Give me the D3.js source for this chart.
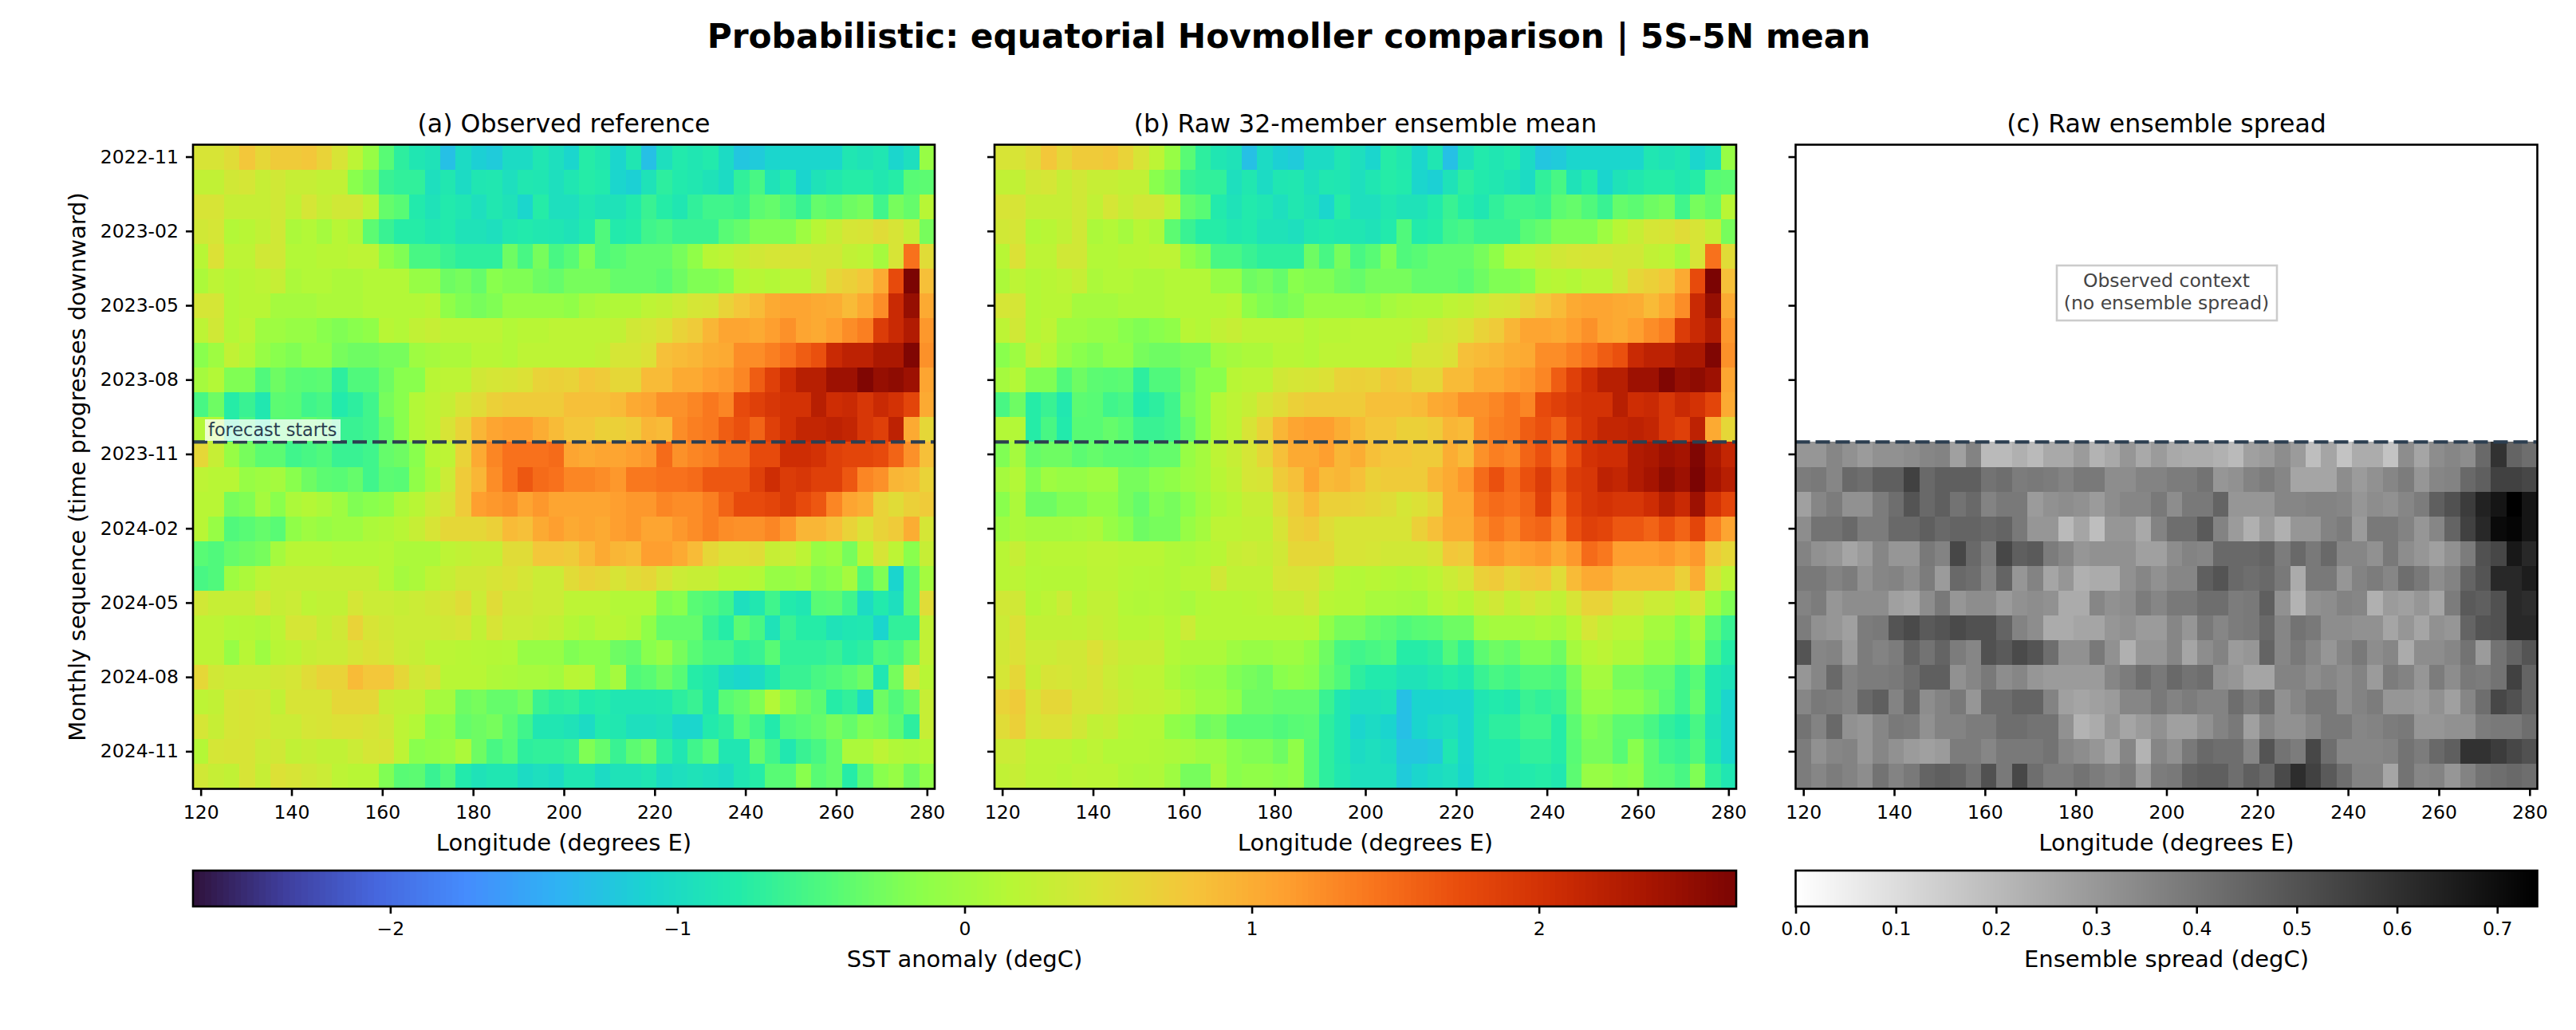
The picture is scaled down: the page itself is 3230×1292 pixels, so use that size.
<!DOCTYPE html>
<html>
<head>
<meta charset="utf-8">
<script src="https://cdn.jsdelivr.net/npm/d3@7"></script>
<style>
  body { margin: 0; background: #fff; }
  text { font-family: "DejaVu Sans", sans-serif; fill: #000; }
</style>
</head>
<body>
<div id="chart"></div>
<script>
// months down the y axis, one row each
const months = ["2022-11","2022-12","2023-01","2023-02","2023-03","2023-04","2023-05","2023-06","2023-07","2023-08","2023-09","2023-10",
  "2023-11","2023-12","2024-01","2024-02","2024-03","2024-04","2024-05","2024-06","2024-07","2024-08","2024-09","2024-10","2024-11","2024-12"];
const monthTicks = ["2022-11","2023-02","2023-05","2023-08","2023-11","2024-02","2024-05","2024-08","2024-11"];
const lonTicks = [120,140,160,180,200,220,240,260,280];
const anomalyTicks = [-2,-1,0,1,2];
const spreadTicks = [0,0.1,0.2,0.3,0.4,0.5,0.6,0.7];
const forecastStart = "2023-11";

// (a) observed anomaly, degC
const observed = [
[.44,.44,.54,.77,.59,.72,.72,.77,.64,.44,.21,-.07,-.44,-.72,-.86,-.91,-1.29,-1.01,-1.14,-1.19,-1.01,-1.01,-.86,-.96,-1.08,-.77,-.84,-1.08,-.86,-1.29,-.96,-.81,-.86,-.81,-1.01,-1.24,-1.19,-1.08,-1.08,-1.08,-1.08,-1.08,-.86,-.91,-.86,-1.08,-.96,-.07],
[.25,.25,.38,.42,.29,.38,.29,.29,.25,.25,-.17,-.27,-.64,-.69,-.69,-.96,-.84,-1.01,-.86,-.84,-.96,-.84,-.86,-.96,-.86,-.77,-.81,-1.08,-1.14,-.91,-.72,-.81,-.84,-.91,-1.01,-.69,-.54,-.91,-.77,-1.09,-.91,-.84,-.77,-.77,-.84,-.77,-.44,-.42],
[.44,.44,.29,.29,.29,.38,.25,.42,.29,.38,.38,.21,-.37,-.44,-.81,-.91,-.81,-.86,-.96,-.84,-.91,-1.08,-.77,-.96,-.96,-.84,-.91,-.91,-.81,-.64,-.77,-.86,-.69,-.59,-.59,-.64,-.42,-.37,-.49,-.64,-.37,-.42,-.32,-.27,-.59,-.27,-.37,.17],
[.38,.42,.13,.17,.25,.38,.08,.13,.03,.17,.08,-.42,-.64,-.77,-.77,-.84,-.81,-.91,-.91,-.96,-.84,-.81,-.84,-.86,-.91,-.81,-.49,-.81,-.77,-.59,-.54,-.64,-.64,-.64,-.44,-.37,-.22,-.22,-.22,-.02,.17,.29,.42,.44,.54,.44,.29,-.27],
[.17,.49,.21,.21,.38,.38,.13,.13,.17,.17,.21,.21,-.12,-.22,-.54,-.54,-.64,-.72,-.72,-.72,-.32,-.54,-.27,-.54,-.44,-.22,-.49,-.44,-.37,-.37,-.37,-.27,-.12,.17,.21,.29,.38,.42,.44,.44,.38,.38,.25,.21,.03,.44,1.45,.54],
[.08,.21,.13,.17,.21,.29,.08,.13,.13,.08,.08,.13,.13,.13,-.07,-.07,-.32,-.27,-.37,-.17,-.22,-.22,-.32,-.37,-.27,-.27,-.27,-.37,-.37,-.37,-.42,-.32,-.22,-.22,-.17,.13,.17,.13,.21,.21,.38,.59,.67,.77,1.03,1.75,2.68,.83],
[.42,.42,.13,.17,.17,.03,.03,.03,.08,.08,.08,.13,.13,.13,.13,.17,-.12,-.22,-.27,-.22,-.07,-.07,-.07,-.07,-.12,.03,.08,.11,.11,.21,.25,.33,.42,.44,.64,.77,.88,1.03,1.07,1.07,1.03,1,.88,1.03,1.25,2.1,2.5,1.03],
[.21,.38,.13,.21,-.02,-.02,-.07,-.07,-.17,-.22,-.17,-.12,.17,.13,.25,.29,.21,.21,.21,.21,.13,.17,.17,.21,.21,.21,.21,.25,.38,.42,.49,.64,.72,.92,1.07,1.07,1.03,1.12,1.22,1.07,1.03,1.12,1.25,1.35,1.9,2.1,2.3,1.17],
[-.17,-.02,.25,.13,-.07,-.17,-.22,-.12,-.12,-.27,-.32,-.32,-.27,-.27,-.02,.03,.08,.08,.17,.17,.13,.21,.21,.21,.21,.21,.25,.42,.42,.49,.83,.88,.92,1,1.03,1.25,1.25,1.35,1.45,1.6,1.7,2.1,2.2,2.2,2.35,2.35,2.65,1.22],
[.03,.13,-.22,-.22,-.49,-.32,-.42,-.44,-.42,-.72,-.49,-.49,-.32,-.17,-.17,.17,.21,.21,.38,.42,.44,.49,.64,.67,.64,.77,.72,.59,.59,.88,.88,1.03,1.03,1.12,1.17,1.3,1.6,1.85,2.05,2.25,2.25,2.45,2.45,2.65,2.5,2.55,2.45,1.07],
[-.54,-.32,-.77,-.64,-.84,-.42,-.44,-.59,-.54,-.81,-.72,-.59,-.27,-.17,.13,.21,.29,.44,.54,.67,.72,.72,.72,.72,.83,.83,.83,.88,1.03,1.07,1.22,1.22,1.3,1.4,1.3,1.75,1.85,1.95,2,2,2.25,2.05,2.1,1.95,2.1,2,1.8,1.03],
[.13,.13,-.77,-.54,-.81,-.44,-.44,-.37,-.44,-.64,-.64,-.59,-.37,-.17,.13,.21,.44,.64,.92,1.07,1.12,1.12,1,.88,.77,.77,.67,.67,.72,.92,.88,1.25,1.35,1.4,1.6,1.7,1.55,1.85,2,2.15,2.15,2.2,2.15,1.95,1.85,2.2,1.03,.59],
[.59,.29,-.07,-.27,-.42,-.42,-.59,-.54,-.49,-.64,-.64,-.59,-.37,-.32,-.17,.17,.21,.64,1.03,1.3,1.45,1.45,1.45,1.5,1.07,1.03,1.07,1.07,1.12,1.17,1.5,1.22,1.3,1.35,1.5,1.5,1.75,1.75,2.05,2.05,2,1.85,1.8,1.8,1.75,1.55,1.22,.83],
[.21,.17,.17,-.07,-.02,.03,-.17,-.32,-.42,-.44,-.37,-.59,-.42,-.44,-.12,.08,.33,.72,.92,1.25,1.45,1.65,1.5,1.45,1.3,1.3,1.25,1.17,1.4,1.4,1.45,1.45,1.5,1.65,1.65,1.65,1.85,2.05,1.9,1.95,1.85,1.85,1.65,1.3,1.22,.92,.88,.64],
[.17,.17,-.27,-.22,.03,-.17,.08,.14,.08,-.02,-.22,-.17,-.12,.08,.17,.33,.44,.72,1.12,1.17,1.22,1.07,1.17,1.07,1.07,1.07,1.07,1.12,1.17,1.17,1.3,1.25,1.25,1.35,1.55,1.75,1.75,1.8,1.9,1.75,1.65,1.3,1.07,1,.64,.54,.67,.72],
[.17,-.07,-.49,-.44,-.37,-.44,-.12,-.02,-.07,-.02,-.02,.08,.11,.17,.29,.44,.59,.59,.59,.67,.88,.83,1.03,1.12,1.03,1.07,1.03,1.12,1.17,1.07,1.07,1.17,1.25,1.35,1.25,1.22,1.22,1.3,1.17,.92,.92,.83,.64,.49,.64,.72,1,.42],
[-.44,-.49,-.37,-.32,-.27,.03,.17,.17,.17,.13,.13,.13,.15,.08,.08,.08,.21,.25,.29,.29,.54,.54,.77,.77,.72,.88,1.03,.92,.88,1.12,1.12,1.03,.88,.59,.49,.49,.54,.29,.33,.21,-.07,-.02,-.27,.17,.44,.21,-.17,.29],
[-.54,-.49,-.02,.08,.21,.29,.29,.29,.29,.29,.29,.29,.15,.03,.08,.21,.29,.38,.38,.44,.49,.42,.33,.33,.54,.64,.59,.44,.54,.59,.44,.33,.29,.29,.17,.17,.13,-.07,-.07,-.02,-.22,-.17,.03,-.49,-.22,-1.09,-.42,.03],
[.38,.29,.29,.29,.42,.29,.33,.21,.25,.25,.42,.33,.33,.29,.33,.38,.44,.54,.33,.54,.38,.38,.33,.33,.21,.21,.21,.13,.13,.13,-.22,-.17,-.44,-.49,-.59,-.96,-.84,-.59,-.81,-.86,-.44,-.42,-.59,-1.01,-.81,-.96,-.42,.54],
[.21,.21,.13,.14,.1,.2,.42,.42,.29,.38,.64,.44,.38,.33,.33,.33,.38,.42,.25,.44,.33,.33,.29,.25,.14,.08,.17,.17,.11,-.12,-.37,-.37,-.37,-.64,-.77,-.42,-.54,-.91,-.64,-.77,-.77,-.91,-.86,-.84,-1.09,-.69,-.69,.25],
[.2,.2,-.07,.17,-.02,.17,.21,.29,.33,.33,.42,.49,.42,.33,.29,.21,.19,.17,.15,.14,.13,-.07,-.07,-.07,-.22,-.17,-.17,-.32,-.37,-.17,-.07,-.27,-.44,-.54,-.54,-.69,-.64,-.44,-.69,-.69,-.69,-.64,-.77,-.72,-.49,-.54,-.32,.25],
[.59,.38,.33,.33,.33,.38,.42,.54,.64,.64,.88,.77,.77,.59,.38,.44,.17,.17,.17,.1,.08,.05,.05,.01,.17,.15,-.17,.03,-.49,-.44,-.32,-.44,-.77,-.84,-1.01,-1.07,-1.01,-.84,-.64,-.64,-.54,-.49,-.42,-.32,-.86,-.27,.42,.17],
[.21,.25,.42,.44,.42,.25,.44,.44,.44,.59,.59,.59,.29,.25,.25,.03,.03,-.32,-.27,-.37,-.37,-.27,-.64,-.72,-.69,-.81,-.77,-.86,-.86,-.86,-.84,-.72,-.64,-.86,-.44,-.37,-.22,.13,-.17,-.32,-.42,-.77,-.69,-1.01,-.32,-.49,-.32,.29],
[.42,.29,.42,.44,.42,.33,.33,.42,.44,.49,.49,.44,.38,.21,.13,-.17,-.12,-.37,-.32,-.27,-.42,-.59,-.86,-.86,-.91,-1.01,-.81,-.84,-.96,-.96,-.91,-1.08,-1.08,-.81,-.72,-.44,-.59,-.81,-.49,-.44,-.37,-.27,-.37,-.22,-.27,-.42,-.72,.29],
[.14,.42,.44,.44,.33,.38,.25,.29,.25,.25,.33,.42,.44,.21,-.17,-.12,-.07,.08,-.32,-.54,-.44,-.72,-.69,-.69,-.64,-.22,-.37,-.64,-.42,-.32,-.69,-.86,-.59,-.44,-.86,-.86,-.37,-.59,-.84,-.64,-.54,-.37,.08,.08,.21,.11,.08,.13],
[.38,.29,.25,.44,.29,.49,.44,.38,.33,.21,.17,.17,-.22,-.44,-.42,-.64,-.49,-.81,-.91,-.86,-.86,-1.01,-.96,-1.01,-.86,-.86,-1.01,-.91,-.91,-.86,-1.01,-.96,-.91,-.96,-1.01,-.86,-.77,-.44,-.44,-.17,-.44,-.37,-.77,-.42,-.17,-.07,-.32,-.12]
];

// (b) ensemble mean for the forecast months, the months before are observed
const ensembleMean = [
[-.22,.03,-.37,-.32,-.32,-.42,-.37,-.42,-.42,-.44,-.37,-.37,-.07,.03,.21,.29,.42,.59,.83,1.03,1.03,1.12,.92,1,.83,.77,.77,.72,.72,1,.88,1.22,1.35,1.3,1.55,1.7,1.45,1.75,2,2.05,2.05,2.3,2.35,2.45,2.4,2.65,2.35,2.15],
[.03,.13,-.22,-.02,-.07,-.07,-.02,-.02,-.27,-.27,-.17,-.12,-.02,.03,.17,.25,.42,.44,.72,.83,1.07,.88,.92,.83,.67,.72,.72,.72,.92,1.03,1.17,1.5,1.7,1.5,1.7,1.9,1.6,1.9,1.95,2.2,2.15,2.3,2.4,2.55,2.45,2.68,2.4,2.25],
[-.17,.08,-.32,-.32,-.22,-.22,-.12,-.12,-.27,-.37,-.22,-.27,-.17,-.02,.11,.17,.29,.29,.54,.72,.88,.67,.67,.64,.59,.54,.42,.49,.59,1.03,1.03,1.4,1.5,1.45,1.55,1.85,1.45,1.8,1.95,2,1.95,1.95,2.05,2.25,2.1,2.45,2,1.8],
[-.02,.08,.03,.03,.03,.05,.08,-.07,-.17,-.32,-.27,-.27,-.07,.03,.21,.21,.25,.25,.44,.67,.72,.54,.44,.44,.44,.44,.44,.67,.83,1,1,1.25,1.4,1.3,1.5,1.55,1.3,1.7,1.85,1.8,1.65,1.65,1.55,1.7,1.55,1.8,1.35,1.07],
[.17,.29,.14,.17,.17,.17,.21,.21,.17,.17,.17,.11,.08,.13,.17,.29,.33,.29,.38,.59,.59,.59,.44,.44,.42,.38,.38,.38,.44,.77,.72,1.12,1.17,1.07,1.12,1.17,1.03,1.17,1.5,1.4,1.12,1.12,1.12,1.17,1.07,1.17,.72,.59],
[.17,.2,.13,.14,.14,.14,.2,.2,.15,.13,.14,.11,.17,.17,.38,.24,.24,.24,.42,.44,.44,.29,.17,.13,.17,.14,.11,.14,.21,.33,.42,.67,.72,.59,.72,.77,.54,.88,1.03,1.03,.88,.88,.88,.88,.67,1,.44,.21],
[.38,.38,.14,.21,.33,.17,.25,.25,.13,.11,.13,.1,.05,.13,.15,.15,.17,.2,.29,.29,.38,.17,.14,.13,.05,.05,.03,.01,.13,.21,.14,.29,.38,.25,.42,.33,.25,.44,.64,.64,.44,.44,.33,.33,.21,.42,.01,-.22],
[.33,.49,.25,.25,.25,.24,.29,.25,.17,.17,.2,.13,.33,.15,.15,.15,.15,.15,.15,.15,.17,-.12,-.27,-.27,-.37,-.42,-.49,-.44,-.42,-.32,-.32,-.02,.03,.03,.03,.08,.03,.17,.42,.29,.21,.21,.03,.03,-.17,.03,-.42,-.64],
[.38,.49,.33,.33,.38,.38,.49,.38,.29,.29,.29,.13,.08,.08,.08,-.02,-.07,-.07,-.02,-.02,-.12,-.32,-.54,-.59,-.54,-.49,-.77,-.77,-.72,-.49,-.69,-.42,-.32,-.37,-.22,-.22,-.32,.03,.15,.2,.1,.1,-.07,-.07,-.22,-.07,-.54,-.77],
[.42,.59,.29,.44,.42,.38,.44,.33,.25,.21,.21,.08,-.02,-.07,-.07,-.22,-.27,-.32,-.17,-.12,-.17,-.37,-.49,-.72,-.81,-.81,-.91,-.91,-.84,-.77,-.84,-.64,-.54,-.59,-.49,-.49,-.54,-.27,.03,.03,-.27,-.27,-.37,-.37,-.59,-.44,-.84,-.91],
[.64,.72,.44,.59,.59,.44,.44,.38,.29,.25,.24,.19,.08,-.02,-.02,-.12,-.32,-.32,-.37,-.37,-.37,-.64,-.86,-.96,-.96,-.91,-1.29,-1.09,-1.09,-1.08,-1.08,-.86,-.81,-.84,-.64,-.69,-.64,-.32,-.07,-.07,-.17,-.17,-.27,-.42,-.59,-.37,-.84,-1.08],
[.54,.67,.42,.49,.49,.38,.25,.29,.15,.13,.13,-.12,-.17,-.32,-.27,-.44,-.44,-.44,-.49,-.44,-.42,-.72,-.86,-1.08,-1.01,-1.09,-1.29,-1.09,-1.01,-.96,-1.08,-.84,-.72,-.72,-.59,-.59,-.77,-.42,-.22,-.27,-.42,-.42,-.54,-.69,-.77,-.54,-.91,-1.08],
[.33,.33,.21,.21,.21,.15,.21,.13,.13,.13,.11,.08,.05,-.02,-.02,-.17,-.22,-.22,-.32,-.12,-.44,-.72,-.86,-1.01,-.96,-1.01,-1.24,-1.24,-1.19,-.86,-1.08,-.84,-.81,-.81,-.69,-.69,-.77,-.44,-.27,-.27,-.44,-.17,-.42,-.59,-.64,-.49,-.86,-1.08],
[.25,.29,.2,.2,.17,.21,.19,.19,.11,.08,.1,-.02,-.27,-.27,.03,-.17,-.12,-.12,-.17,-.12,-.44,-.72,-.84,-.96,-.96,-.96,-1.19,-1.08,-1.01,-.96,-1.09,-.86,-.81,-.84,-.81,-.77,-.84,-.42,-.07,-.07,-.17,-.12,-.42,-.44,-.54,-.22,-.69,-.86]
];

// (c) ensemble spread, forecast months only
const ensembleSpread = [
[.305,.305,.35,.32,.29,.32,.32,.33,.35,.36,.275,.36,.2,.2,.23,.2,.25,.25,.29,.22,.25,.305,.25,.29,.25,.24,.24,.225,.2,.275,.29,.33,.29,.19,.26,.175,.24,.24,.175,.33,.26,.33,.35,.33,.435,.595,.45,.42],
[.38,.39,.35,.435,.42,.465,.465,.55,.435,.465,.465,.465,.405,.42,.38,.39,.38,.36,.39,.39,.33,.33,.36,.36,.38,.38,.405,.305,.32,.36,.38,.35,.26,.26,.26,.33,.29,.32,.35,.38,.305,.35,.36,.435,.465,.55,.55,.535],
[.275,.35,.38,.32,.32,.38,.42,.495,.435,.465,.405,.435,.36,.39,.39,.29,.32,.33,.32,.29,.33,.35,.35,.39,.33,.39,.39,.45,.305,.305,.305,.35,.35,.36,.36,.35,.305,.33,.32,.35,.38,.465,.505,.565,.64,.68,.74,.68],
[.33,.405,.405,.435,.38,.38,.435,.435,.465,.435,.45,.45,.435,.45,.39,.305,.305,.2,.26,.19,.305,.305,.25,.36,.42,.42,.48,.36,.29,.23,.29,.23,.305,.305,.36,.38,.29,.39,.39,.36,.305,.35,.45,.55,.625,.71,.725,.68],
[.36,.32,.305,.26,.29,.35,.305,.305,.39,.36,.535,.435,.38,.535,.465,.48,.38,.35,.305,.32,.32,.32,.275,.275,.33,.36,.35,.435,.435,.435,.45,.38,.435,.39,.435,.35,.35,.32,.39,.33,.305,.275,.32,.38,.505,.535,.67,.625],
[.39,.39,.36,.38,.32,.35,.36,.33,.38,.29,.435,.42,.36,.45,.305,.36,.26,.305,.23,.245,.245,.32,.35,.32,.35,.35,.465,.495,.435,.42,.435,.39,.245,.39,.39,.305,.36,.38,.35,.42,.39,.33,.36,.45,.495,.625,.625,.655],
[.36,.38,.305,.33,.33,.33,.275,.26,.33,.39,.305,.33,.33,.29,.32,.33,.32,.245,.245,.35,.32,.33,.38,.35,.39,.39,.42,.42,.38,.39,.465,.32,.22,.32,.33,.36,.35,.23,.29,.275,.305,.26,.38,.48,.465,.505,.625,.61],
[.38,.32,.305,.275,.38,.39,.495,.525,.48,.495,.525,.505,.505,.45,.36,.33,.245,.245,.26,.26,.305,.32,.29,.29,.35,.305,.39,.35,.38,.39,.435,.35,.405,.39,.33,.33,.32,.32,.26,.305,.26,.32,.305,.45,.495,.505,.625,.625],
[.495,.35,.36,.29,.38,.36,.38,.45,.405,.45,.38,.35,.505,.48,.525,.495,.42,.32,.32,.39,.32,.23,.305,.305,.35,.26,.33,.36,.29,.305,.45,.35,.39,.35,.305,.35,.39,.33,.35,.245,.33,.33,.35,.405,.29,.405,.45,.495],
[.305,.35,.435,.36,.38,.38,.39,.42,.465,.465,.32,.35,.39,.33,.35,.305,.29,.29,.29,.29,.35,.38,.42,.39,.435,.405,.42,.32,.305,.26,.26,.36,.36,.33,.35,.33,.36,.29,.38,.36,.305,.38,.33,.39,.38,.405,.55,.45],
[.35,.39,.38,.36,.435,.465,.36,.435,.33,.36,.39,.305,.42,.42,.45,.45,.36,.275,.26,.275,.29,.35,.35,.39,.36,.38,.36,.36,.42,.38,.42,.32,.35,.39,.39,.33,.36,.38,.305,.305,.29,.32,.275,.35,.42,.535,.505,.45],
[.405,.36,.435,.32,.305,.35,.39,.38,.32,.36,.36,.38,.38,.42,.42,.405,.405,.32,.22,.245,.305,.26,.29,.32,.275,.275,.32,.36,.39,.275,.35,.32,.32,.35,.39,.39,.35,.36,.38,.39,.305,.305,.32,.32,.38,.39,.39,.42],
[.38,.32,.35,.36,.305,.35,.32,.29,.275,.29,.38,.38,.35,.39,.39,.39,.405,.35,.33,.305,.26,.35,.22,.35,.32,.39,.435,.42,.42,.35,.495,.405,.38,.535,.42,.35,.35,.35,.36,.405,.38,.435,.465,.595,.595,.565,.535,.505],
[.38,.35,.38,.36,.33,.405,.36,.39,.45,.465,.45,.405,.505,.39,.535,.42,.38,.38,.405,.38,.36,.38,.29,.38,.39,.45,.465,.465,.42,.465,.435,.525,.61,.55,.48,.42,.36,.36,.26,.405,.35,.36,.305,.36,.405,.42,.435,.42]
];

// matplotlib turbo, every 15th entry of the table
const turboStops = ["rgb(48,18,59)","rgb(63,62,156)","rgb(70,102,221)","rgb(69,140,253)","rgb(47,178,244)","rgb(26,212,208)","rgb(34,235,170)","rgb(82,250,122)",
  "rgb(139,255,75)","rgb(183,247,53)","rgb(219,226,54)","rgb(245,197,58)","rgb(254,161,48)","rgb(249,117,29)","rgb(232,75,12)","rgb(206,45,4)","rgb(169,22,1)","rgb(122,4,3)"];

const anomalyMax = 2.687;
const spreadMax = 0.74;

const color = d3.scaleSequential(d3.piecewise(d3.interpolateRgb, turboStops)).domain([-anomalyMax, anomalyMax]);
const gray = d3.scaleSequential(d3.interpolateRgb("#ffffff", "#000000")).domain([0, spreadMax]);

const W = 3230, H = 1292;
const lonStep = 160 / 47;
const lons = d3.range(48).map(i => 120 + i * lonStep);

const plotTop = 181.5, plotBottom = 989.5, panelW = 930;
const panels = [
  {left: 242, title: "(a) Observed reference", rows: observed, startRow: 0, color: color},
  {left: 1247, title: "(b) Raw 32-member ensemble mean", rows: observed.slice(0, 12).concat(ensembleMean), startRow: 0, color: color},
  {left: 2251.5, title: "(c) Raw ensemble spread", rows: ensembleSpread, startRow: 12, color: gray}
];

const svg = d3.select("#chart").append("svg")
    .attr("width", W)
    .attr("height", H)
    .style("display", "block");

const y = d3.scaleBand().domain(months).range([plotTop, plotBottom]);
const lineY = y(forecastStart);

function styleAxis(g, size) {
  g.select(".domain").remove();
  g.selectAll(".tick line").attr("stroke", "#000").attr("stroke-width", 2.6);
  g.selectAll(".tick text").style("font-size", size + "px").style("font-family", '"DejaVu Sans"').attr("fill", "#000");
}

panels.forEach((p, i) => {
  const x = d3.scaleLinear()
    .domain([120 - lonStep / 2, 280 + lonStep / 2])
    .range([p.left, p.left + panelW]);
  const cellW = x(120 + lonStep) - x(120);
  const g = svg.append("g");

  p.rows.forEach((row, r) => {
    g.append("g").selectAll("rect")
      .data(row)
      .join("rect")
      .attr("x", (d, c) => x(lons[c]) - cellW / 2)
      .attr("y", y(months[r + p.startRow]))
      .attr("width", cellW)
      .attr("height", y.bandwidth())
      .attr("fill", d => p.color(d))
      .attr("shape-rendering", "crispEdges");
  });

  // axes
  g.append("g")
    .attr("transform", "translate(0," + plotBottom + ")")
    .call(d3.axisBottom(x).tickValues(lonTicks).tickFormat(d3.format("d")).tickSize(9).tickPadding(12))
    .call(styleAxis, 23.5);

  g.append("g")
    .attr("transform", "translate(" + p.left + ",0)")
    .call(d3.axisLeft(y).tickValues(monthTicks).tickSize(9).tickPadding(9).tickFormat(i === 0 ? (d => d) : ""))
    .call(styleAxis, 23.5);

  // forecast line
  g.append("line")
    .attr("x1", p.left).attr("x2", p.left + panelW)
    .attr("y1", lineY).attr("y2", lineY)
    .attr("stroke", "#2c3e50")
    .attr("stroke-width", 4.2)
    .attr("stroke-dasharray", "18,7");

  g.append("rect")
    .attr("x", p.left).attr("y", plotTop)
    .attr("width", panelW).attr("height", plotBottom - plotTop)
    .attr("fill", "none")
    .attr("stroke", "#000")
    .attr("stroke-width", 2.6);

  g.append("text")
    .attr("x", p.left + panelW / 2)
    .attr("y", 166)
    .attr("text-anchor", "middle")
    .style("font-size", "31.6px")
    .text(p.title);

  g.append("text")
    .attr("x", p.left + panelW / 2)
    .attr("y", 1066.5)
    .attr("text-anchor", "middle")
    .style("font-size", "29px")
    .text("Longitude (degrees E)");
});

// forecast label on panel a
svg.append("rect")
  .attr("x", 257).attr("y", 526)
  .attr("width", 170).attr("height", 27)
  .attr("fill", "#fff")
  .attr("fill-opacity", 0.75);
svg.append("text")
  .attr("x", 261).attr("y", 547)
  .style("fill", "#2c3e50")
  .style("font-size", "22.4px")
  .text("forecast starts");

// note on panel c
svg.append("rect")
  .attr("x", 2579).attr("y", 333)
  .attr("width", 276).attr("height", 69)
  .attr("fill", "#fff")
  .attr("stroke", "#cccccc")
  .attr("stroke-width", 2.6);
const note = svg.append("text")
  .attr("text-anchor", "middle")
  .style("fill", "#444444")
  .style("font-size", "23.5px");
note.append("tspan").attr("x", 2716.5).attr("y", 360).text("Observed context");
note.append("tspan").attr("x", 2716.5).attr("y", 388).text("(no ensemble spread)");

// y label
svg.append("text")
  .attr("transform", "translate(107,585.5) rotate(-90)")
  .attr("text-anchor", "middle")
  .style("font-size", "29px")
  .text("Monthly sequence (time progresses downward)");

// suptitle
svg.append("text")
  .attr("x", 1616)
  .attr("y", 60)
  .attr("text-anchor", "middle")
  .style("font-size", "42.3px")
  .style("font-weight", "bold")
  .text("Probabilistic: equatorial Hovmoller comparison | 5S-5N mean");

// colorbars
function colorbar(left, right, scale, domain, ticks, fmt, label) {
  const x = d3.scaleLinear().domain(domain).range([left, right]);
  const steps = d3.range(256).map(i => domain[0] + (domain[1] - domain[0]) * (i + 0.5) / 256);
  const stepW = (right - left) / 256;
  const g = svg.append("g");
  g.selectAll("rect")
    .data(steps)
    .join("rect")
    .attr("x", d => x(d) - stepW / 2)
    .attr("y", 1092)
    .attr("width", stepW + 0.5)
    .attr("height", 45)
    .attr("fill", d => scale(d))
    .attr("shape-rendering", "crispEdges");
  g.append("rect")
    .attr("x", left).attr("y", 1092)
    .attr("width", right - left).attr("height", 45)
    .attr("fill", "none")
    .attr("stroke", "#000")
    .attr("stroke-width", 2.6);
  g.append("g")
    .attr("transform", "translate(0,1137)")
    .call(d3.axisBottom(x).tickValues(ticks).tickFormat(fmt).tickSize(9).tickPadding(10))
    .call(styleAxis, 23.5);
  g.append("text")
    .attr("x", (left + right) / 2)
    .attr("y", 1212.5)
    .attr("text-anchor", "middle")
    .style("font-size", "29px")
    .text(label);
}

colorbar(242, 2177, color, [-anomalyMax, anomalyMax], anomalyTicks, d => (d < 0 ? "\u2212" + (-d) : d), "SST anomaly (degC)");
colorbar(2251.5, 3181.5, gray, [0, spreadMax], spreadTicks, d3.format(".1f"), "Ensemble spread (degC)");
</script>
</body>
</html>
